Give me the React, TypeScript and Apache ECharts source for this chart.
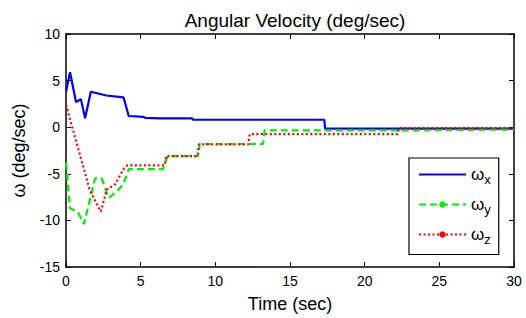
import React, { useEffect, useRef } from "react";
import * as echarts from "echarts";

const tX = [0, 0.27, 0.67, 1.0, 1.28, 1.66, 2.7, 3.85, 4.2, 5.2, 5.3, 6.3, 8.45, 8.5, 17.3, 17.35, 30];
const vX = [3.8, 5.9, 2.7, 3.0, 0.95, 3.8, 3.4, 3.2, 1.2, 1.1, 1.0, 0.95, 0.95, 0.8, 0.8, -0.15, -0.15];

const tY = [0, 0.27, 0.8, 1.2, 1.95, 2.4, 2.85, 3.4, 3.85, 4.2, 6.5, 6.8, 8.85, 8.95, 13.2, 13.3, 22.2, 30];
const vY = [-3.8, -8.7, -9.1, -10.4, -5.5, -5.5, -7.6, -6.9, -6.1, -4.5, -4.5, -3.1, -3.1, -1.8, -1.8, -0.35, -0.35, -0.25];

const tZ = [0, 1.6, 2.33, 2.73, 3.3, 3.85, 4.1, 6.6, 6.7, 8.8, 8.9, 12.2, 12.3, 22.2, 22.3, 30];
const vZ = [2.4, -6.8, -9.05, -6.7, -6.1, -4.5, -4.1, -4.1, -3.1, -3.1, -1.85, -1.85, -0.75, -0.75, -0.1, -0.1];

const seriesNames = ["x", "y", "z"];
const FONT = "Liberation Sans, Arial, sans-serif";

const zip = (t: number[], v: number[]) => t.map((x, i) => [x, v[i]]);

export default function App() {
  const ref = useRef<HTMLDivElement>(null);
  useEffect(() => {
    const chart = echarts.init(ref.current!, undefined, { renderer: "svg" });
    const axisCommon = {
      type: "value" as const,
      axisLine: { show: true, onZero: false, lineStyle: { color: "#000", width: 1.5 } },
      axisTick: { show: true, inside: true, length: 5, lineStyle: { color: "#000" } },
      splitLine: { show: false },
      interval: 5,
    };
    chart.setOption({
      animation: false,
      backgroundColor: "#fff",
      title: {
        text: "Angular Velocity (deg/sec)",
        left: 290,
        textAlign: "center",
        top: 6,
        textStyle: { fontFamily: FONT, fontSize: 19, fontWeight: "normal", color: "#000" },
      },
      grid: { left: 66, right: 12, top: 34, bottom: 46 },
      xAxis: [
        {
          ...axisCommon,
          min: 0,
          max: 30,
          position: "bottom",
          name: "Time (sec)",
          nameLocation: "middle",
          nameGap: 28,
          nameTextStyle: { fontFamily: FONT, fontSize: 18, color: "#000" },
          axisLabel: { fontFamily: FONT, fontSize: 14, color: "#000", margin: 7 },
        },
        {
          ...axisCommon,
          min: 0,
          max: 30,
          position: "top",
          axisLabel: { show: false },
        },
      ],
      yAxis: [
        {
          ...axisCommon,
          min: -15,
          max: 10,
          position: "left",
          name: "ω (deg/sec)",
          nameLocation: "middle",
          nameGap: 38,
          nameTextStyle: { fontFamily: FONT, fontSize: 18, color: "#000" },
          axisLabel: { fontFamily: FONT, fontSize: 14, color: "#000", margin: 6 },
        },
        {
          ...axisCommon,
          min: -15,
          max: 10,
          position: "right",
          axisLabel: { show: false },
        },
      ],
      legend: {
        orient: "vertical",
        left: 409,
        top: 158,
        width: 87,
        padding: [8, 8, 9, 9],
        itemGap: 10.5,
        itemWidth: 47,
        itemHeight: 8,
        borderColor: "#000",
        borderWidth: 1.2,
        backgroundColor: "#fff",
        data: [
          { name: "x", itemStyle: { opacity: 0 } },
          { name: "y" },
          { name: "z" },
        ],
        formatter: (n: string) => `{a|ω}{b|${n}}`,
        textStyle: {
          fontFamily: FONT,
          color: "#000",
          rich: {
            a: { fontFamily: FONT, fontSize: 17, color: "#000" },
            b: { fontFamily: FONT, fontSize: 13, color: "#000", padding: [9, 0, 0, 0] },
          },
        },
      },
      series: [
        {
          name: seriesNames[0],
          type: "line",
          data: zip(tX, vX),
          showSymbol: false,
          symbol: "none",
          lineStyle: { color: "#0000ff", width: 2.2 },
          itemStyle: { color: "#0000ff" },
        },
        {
          name: seriesNames[1],
          type: "line",
          data: zip(tY, vY),
          showSymbol: false,
          symbol: "circle",
          lineStyle: { color: "#00ee00", width: 2.2, type: [7, 4] },
          itemStyle: { color: "#00ee00" },
        },
        {
          name: seriesNames[2],
          type: "line",
          data: zip(tZ, vZ),
          showSymbol: false,
          symbol: "circle",
          lineStyle: { color: "#ff0000", width: 2.2, type: [2, 2.5] },
          itemStyle: { color: "#ff0000" },
        },
      ],
    });
    return () => chart.dispose();
  }, []);
  return <div ref={ref} style={{ width: 526, height: 318, position: "absolute", left: 0, top: 0 }} />;
}
